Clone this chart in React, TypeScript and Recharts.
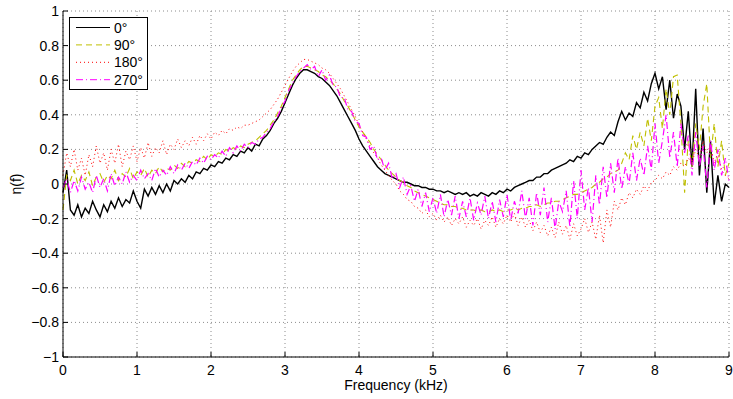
import React from 'react';
import { LineChart, Line, XAxis, YAxis, CartesianGrid, Legend } from 'recharts';

const FREQ_STEP = 0.05; // kHz sampling grid

const ETA_0 = [
  -0.05, 0.08, -0.15, -0.18, -0.12, -0.19, -0.14, -0.17, -0.10, -0.15,
  -0.19, -0.12, -0.16, -0.10, -0.14, -0.08, -0.13, -0.09, -0.11, -0.04,
  -0.10, -0.14, -0.03, -0.07, -0.02, -0.06, -0.01, -0.05, 0.00, -0.04,
  0.02, 0.00, 0.03, 0.01, 0.05, 0.03, 0.07, 0.06, 0.09, 0.08,
  0.11, 0.10, 0.13, 0.12, 0.15, 0.14, 0.17, 0.16, 0.19, 0.18,
  0.21, 0.19, 0.23, 0.22, 0.26, 0.28, 0.31, 0.35, 0.38, 0.42,
  0.47, 0.52, 0.57, 0.61, 0.64, 0.66, 0.66, 0.65, 0.64, 0.62,
  0.61, 0.59, 0.57, 0.54, 0.51, 0.47, 0.43, 0.39, 0.35, 0.31,
  0.26, 0.22, 0.19, 0.16, 0.13, 0.10, 0.08, 0.06, 0.05, 0.04,
  0.03, 0.02, 0.01, 0.01, 0.00, -0.01, -0.01, -0.02, -0.02, -0.03,
  -0.03, -0.04, -0.04, -0.05, -0.04, -0.05, -0.06, -0.05, -0.06, -0.05,
  -0.07, -0.06, -0.07, -0.05, -0.06, -0.07, -0.05, -0.06, -0.04, -0.05,
  -0.03, -0.04, -0.02, -0.01, 0.00, 0.01, 0.02, 0.02, 0.04, 0.04,
  0.06, 0.06, 0.08, 0.09, 0.10, 0.11, 0.12, 0.14, 0.13, 0.16,
  0.15, 0.18, 0.17, 0.20, 0.22, 0.24, 0.23, 0.27, 0.30, 0.28,
  0.36, 0.42, 0.37, 0.41, 0.39, 0.47, 0.44, 0.53, 0.48, 0.58,
  0.64, 0.55, 0.62, 0.43, 0.60, 0.38, 0.52, 0.45, 0.20, 0.42,
  0.10, 0.55, 0.05, 0.32, -0.05, 0.25, -0.12, 0.05, -0.10, 0.00,
  -0.02,
];

const ETA_90 = [
  -0.15, 0.05, 0.02, 0.08, 0.00, 0.05, 0.02, 0.07, -0.01, 0.04,
  0.06, 0.01, 0.05, 0.03, 0.08, 0.02, 0.06, 0.04, 0.09, 0.03,
  0.07, 0.05, 0.09, 0.04, 0.08, 0.06, 0.10, 0.07, 0.09, 0.08,
  0.11, 0.09, 0.12, 0.10, 0.13, 0.12, 0.14, 0.13, 0.16, 0.14,
  0.17, 0.16, 0.18, 0.17, 0.20, 0.19, 0.21, 0.20, 0.22, 0.21,
  0.23, 0.24, 0.25, 0.27, 0.29, 0.31, 0.34, 0.37, 0.41, 0.45,
  0.50, 0.55, 0.60, 0.63, 0.66, 0.68, 0.68, 0.67, 0.66, 0.65,
  0.63, 0.62, 0.60, 0.58, 0.55, 0.52, 0.48, 0.45, 0.41, 0.37,
  0.33, 0.30, 0.27, 0.24, 0.20, 0.17, 0.14, 0.11, 0.08, 0.06,
  0.04, 0.02, 0.01, -0.01, -0.02, -0.04, -0.05, -0.06, -0.07, -0.08,
  -0.09, -0.10, -0.11, -0.12, -0.12, -0.13, -0.13, -0.14, -0.14, -0.15,
  -0.15, -0.15, -0.16, -0.15, -0.16, -0.16, -0.15, -0.16, -0.15, -0.16,
  -0.15, -0.15, -0.14, -0.15, -0.14, -0.14, -0.13, -0.13, -0.12, -0.13,
  -0.12, -0.11, -0.11, -0.10, -0.10, -0.09, -0.08, -0.07, -0.06, -0.06,
  -0.05, -0.04, -0.03, -0.02, 0.00, 0.01, 0.03, 0.04, 0.06, 0.07,
  0.08, 0.12, 0.18, 0.14, 0.28, 0.20, 0.30, 0.22, 0.38, 0.25,
  0.45, 0.50, 0.32, 0.55, 0.40, 0.62, 0.63, 0.35, -0.05, 0.25,
  0.10, 0.35, 0.20, 0.45, 0.58, 0.15, 0.35, 0.10, 0.25, 0.05,
  0.12,
];

const ETA_180 = [
  0.05, 0.18, 0.10, 0.20, 0.08, 0.15, 0.05, 0.17, 0.10, 0.22,
  0.12, 0.18, 0.08, 0.20, 0.12, 0.23, 0.10, 0.19, 0.14, 0.22,
  0.13, 0.21, 0.15, 0.24, 0.16, 0.21, 0.18, 0.25, 0.17, 0.23,
  0.20, 0.26, 0.21, 0.25, 0.22, 0.27, 0.23, 0.28, 0.25, 0.29,
  0.26, 0.30, 0.28, 0.31, 0.29, 0.32, 0.31, 0.33, 0.32, 0.34,
  0.34, 0.35, 0.36, 0.37, 0.39, 0.41, 0.43, 0.46, 0.49, 0.53,
  0.57, 0.61, 0.65, 0.68, 0.70, 0.72, 0.72, 0.71, 0.70, 0.69,
  0.67, 0.66, 0.64, 0.61, 0.58, 0.55, 0.51, 0.47, 0.43, 0.39,
  0.34, 0.30, 0.26, 0.22, 0.18, 0.15, 0.11, 0.08, 0.05, 0.02,
  0.00, -0.04, -0.06, -0.09, -0.10, -0.13, -0.14, -0.17, -0.15, -0.19,
  -0.17, -0.21, -0.18, -0.22, -0.19, -0.24, -0.20, -0.23, -0.19, -0.25,
  -0.21, -0.24, -0.20, -0.26, -0.21, -0.24, -0.19, -0.25, -0.20, -0.23,
  -0.18, -0.22, -0.17, -0.24, -0.19, -0.25, -0.21, -0.27, -0.22, -0.28,
  -0.24, -0.30, -0.25, -0.31, -0.22, -0.29, -0.24, -0.32, -0.23, -0.30,
  -0.26, -0.20, -0.28, -0.22, -0.32, -0.18, -0.34, -0.15, -0.25, -0.10,
  -0.15, -0.08, -0.12, -0.05, -0.08, -0.03, -0.06, -0.01, -0.04, 0.01,
  0.02, 0.05, 0.03, 0.07, 0.05, 0.10, 0.08, 0.12, 0.10, 0.15,
  0.12, 0.20, 0.15, 0.25, 0.18, 0.22, 0.12, 0.18, 0.08, 0.05,
  0.03,
];

const ETA_270 = [
  -0.02, 0.03, -0.05, 0.02, -0.04, 0.04, -0.03, 0.01, -0.05, 0.05,
  -0.02, 0.03, -0.04, 0.06, -0.01, 0.04, 0.00, 0.07, 0.01, 0.05,
  0.02, 0.08, 0.03, 0.06, 0.02, 0.09, 0.04, 0.08, 0.05, 0.10,
  0.06, 0.11, 0.08, 0.12, 0.09, 0.13, 0.11, 0.15, 0.12, 0.16,
  0.14, 0.17, 0.15, 0.19, 0.16, 0.21, 0.18, 0.22, 0.19, 0.23,
  0.21, 0.24, 0.23, 0.26, 0.27, 0.30, 0.32, 0.36, 0.39, 0.44,
  0.48, 0.54, 0.58, 0.62, 0.65, 0.67, 0.69, 0.66, 0.68, 0.62,
  0.66, 0.60, 0.63, 0.57, 0.56, 0.50, 0.50, 0.43, 0.42, 0.36,
  0.35, 0.28, 0.27, 0.20, 0.22, 0.14, 0.15, 0.08, 0.12, 0.03,
  0.06, -0.02, 0.04, -0.06, -0.01, -0.10, -0.03, -0.13, -0.05, -0.16,
  -0.08, -0.17, -0.06, -0.19, -0.09, -0.18, -0.07, -0.20, -0.10, -0.19,
  -0.08, -0.21, -0.11, -0.18, -0.07, -0.20, -0.10, -0.22, -0.09, -0.19,
  -0.06, -0.21, -0.10, -0.17, -0.04, -0.20, -0.08, -0.24, -0.05, -0.18,
  -0.02, -0.22, -0.08, -0.26, -0.10, -0.16, -0.04, -0.25, 0.02, -0.20,
  0.08, -0.15, -0.02, -0.22, 0.05, -0.12, 0.10, -0.08, 0.12, -0.05,
  0.15, -0.03, 0.10, 0.00, 0.18, 0.02, 0.15, 0.05, 0.22, 0.08,
  0.35, 0.12, 0.25, 0.40, 0.15, 0.30, 0.10, 0.35, 0.18, 0.28,
  0.05, 0.30, 0.10, 0.22, -0.02, 0.25, 0.08, 0.20, 0.05, 0.15,
  0.02,
];

const LEGEND_LABELS = ['0°', '90°', '180°', '270°'];
const X_TICKS = [0, 1, 2, 3, 4, 5, 6, 7, 8, 9];
const Y_TICKS = [-1, -0.8, -0.6, -0.4, -0.2, 0, 0.2, 0.4, 0.6, 0.8, 1];
const X_LABEL = 'Frequency (kHz)';
const Y_LABEL = 'η(f)';

const SERIES = [
  { key: 'a0', values: ETA_0, color: '#000000', dash: undefined as string | undefined, width: 1.4 },
  { key: 'a90', values: ETA_90, color: '#bfbf00', dash: '6 4', width: 1.1 },
  { key: 'a180', values: ETA_180, color: '#ff0000', dash: '1 3', width: 1 },
  { key: 'a270', values: ETA_270, color: '#ff00ff', dash: '7 3 1 3', width: 1.2 },
];

const data = ETA_0.map((_, i) => {
  const row: Record<string, number> = { f: Math.round(i * FREQ_STEP * 100) / 100 };
  SERIES.forEach((s) => {
    row[s.key] = s.values[i];
  });
  return row;
});

const FONT = '"Liberation Sans", Arial, Helvetica, sans-serif';
const FS = 14;

const fmt = (v: number) => (v === 0 ? '0' : String(v).replace('-', '\u2212'));

const XTickBottom = (props: any) => {
  const { x, y, payload } = props;
  return (
    <g>
      <line x1={x} y1={y} x2={x} y2={y - 5} stroke="#000" strokeWidth={1} />
      <text x={x} y={y + 18} textAnchor="middle" fontFamily={FONT} fontSize={FS} fill="#000">
        {fmt(payload.value)}
      </text>
    </g>
  );
};

const XTickTop = (props: any) => {
  const { x, y } = props;
  return <line x1={x} y1={y} x2={x} y2={y + 5} stroke="#000" strokeWidth={1} />;
};

const YTickLeft = (props: any) => {
  const { x, y, payload } = props;
  return (
    <g>
      <line x1={x} y1={y} x2={x + 5} y2={y} stroke="#000" strokeWidth={1} />
      <text x={x - 4} y={y + 5} textAnchor="end" fontFamily={FONT} fontSize={FS} fill="#000">
        {fmt(payload.value)}
      </text>
    </g>
  );
};

const YTickRight = (props: any) => {
  const { x, y } = props;
  return <line x1={x} y1={y} x2={x - 5} y2={y} stroke="#000" strokeWidth={1} />;
};

const XLabel = (props: any) => {
  const vb = props.viewBox || {};
  return (
    <text x={vb.x + vb.width / 2} y={vb.y + 33} textAnchor="middle" fontFamily={FONT} fontSize={FS} fill="#000">
      {X_LABEL}
    </text>
  );
};

const YLabel = (props: any) => {
  const vb = props.viewBox || {};
  const cx = vb.x + 21;
  const cy = vb.y + vb.height / 2;
  return (
    <text
      x={cx}
      y={cy}
      transform={`rotate(-90, ${cx}, ${cy})`}
      textAnchor="middle"
      fontFamily={FONT}
      fontSize={FS}
      fill="#000"
    >
      {Y_LABEL}
    </text>
  );
};

const LegendBox = () => (
  <div style={{ width: 77, height: 71, border: '1px solid #000', background: '#fff' }}>
    <svg width={77} height={71}>
      {SERIES.map((s, i) => {
        const cy = 9.5 + i * 17.4;
        return (
          <g key={s.key}>
            <line x1={6} y1={cy} x2={40} y2={cy} stroke={s.color} strokeWidth={1} strokeDasharray={s.dash} />
            <text x={44} y={cy + 5} fontFamily={FONT} fontSize={FS} fill="#000">
              {LEGEND_LABELS[i]}
            </text>
          </g>
        );
      })}
    </svg>
  </div>
);

export default function App() {
  return (
    <div style={{ position: 'absolute', left: 0, top: 0, width: 733, height: 399, background: '#fff' }}>
      <LineChart width={733} height={399} data={data} margin={{ top: 11, right: 4, bottom: 0, left: 0 }}>
        <CartesianGrid stroke="#8c8c8c" strokeDasharray="1 3" strokeWidth={1} />
        <XAxis
          dataKey="f"
          type="number"
          domain={[0, 9]}
          ticks={X_TICKS}
          height={42}
          tickSize={0}
          tickMargin={0}
          axisLine={{ stroke: '#000', strokeWidth: 1 }}
          tickLine={false}
          tick={<XTickBottom />}
          label={<XLabel />}
          interval={0}
        />
        <XAxis
          xAxisId="top"
          orientation="top"
          dataKey="f"
          type="number"
          domain={[0, 9]}
          ticks={X_TICKS}
          height={0}
          tickSize={0}
          tickMargin={0}
          axisLine={{ stroke: '#000', strokeWidth: 1 }}
          tickLine={false}
          tick={<XTickTop />}
          interval={0}
        />
        <YAxis
          type="number"
          domain={[-1, 1]}
          ticks={Y_TICKS}
          width={63}
          tickSize={0}
          tickMargin={0}
          axisLine={{ stroke: '#000', strokeWidth: 1 }}
          tickLine={false}
          tick={<YTickLeft />}
          label={<YLabel />}
          interval={0}
          allowDataOverflow
        />
        <YAxis
          yAxisId="right"
          orientation="right"
          type="number"
          domain={[-1, 1]}
          ticks={Y_TICKS}
          width={0}
          tickSize={0}
          tickMargin={0}
          axisLine={{ stroke: '#000', strokeWidth: 1 }}
          tickLine={false}
          tick={<YTickRight />}
          interval={0}
        />
        <Legend
          layout="vertical"
          align="center"
          verticalAlign="middle"
          content={<LegendBox />}
          wrapperStyle={{ left: 69, top: 17, width: 79, height: 73 }}
        />
        {SERIES.map((s) => (
          <Line
            key={s.key}
            dataKey={s.key}
            name={s.key}
            type="linear"
            stroke={s.color}
            strokeWidth={s.width}
            strokeDasharray={s.dash}
            dot={false}
            activeDot={false}
            isAnimationActive={false}
          />
        ))}
      </LineChart>
    </div>
  );
}
